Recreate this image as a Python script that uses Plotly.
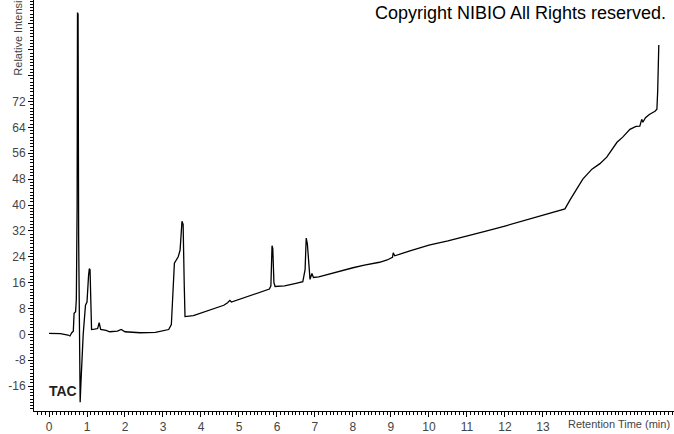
import plotly.graph_objects as go

# Retention time (min) and relative intensity
time_min = [0.0, 0.3, 0.5, 0.55, 0.6, 0.64, 0.66, 0.7, 0.72, 0.74, 0.75, 0.765, 0.78, 0.8, 0.82,
            0.84, 0.86, 0.9, 0.96, 1.0, 1.04, 1.06, 1.08, 1.1, 1.12, 1.2, 1.28, 1.32, 1.36, 1.5,
            1.6, 1.8, 1.9, 2.0, 2.4, 2.8, 3.0, 3.15, 3.22, 3.26, 3.3, 3.4, 3.45, 3.5, 3.53, 3.56,
            3.58, 3.8, 4.0, 4.2, 4.4, 4.6, 4.7, 4.76, 4.8, 5.0, 5.2, 5.4, 5.6, 5.8, 5.84, 5.87,
            5.89, 5.92, 5.95, 6.2, 6.5, 6.68, 6.74, 6.77, 6.8, 6.84, 6.87, 6.92, 6.96, 7.1, 7.4,
            7.7, 8.0, 8.3, 8.7, 8.9, 9.04, 9.06, 9.1, 9.5, 10.0, 10.5, 11.0, 11.5, 12.0, 12.5,
            13.0, 13.4, 13.58, 13.71, 13.9, 14.05, 14.29, 14.5, 14.68, 14.95, 15.1, 15.29, 15.45,
            15.55, 15.6, 15.63, 15.7, 15.8, 15.95, 16.0, 16.02, 16.03, 16.05]
intensity = [0.3, 0.2, -0.2, -0.5, 0.5, 1.0, 6.5, 7.0, 11.0, 40.0, 99.5, 99.0, 30.0, -19.0, -21.0,
             -15.0, -8.0, 0.0, 9.0, 10.0, 18.0, 20.3, 20.0, 5.0, 1.5, 1.6, 1.8, 3.6, 1.5, 1.2,
             0.8, 1.0, 1.5, 0.8, 0.5, 0.6, 1.0, 1.5, 3.0, 12.0, 22.0, 24.0, 26.0, 35.0, 34.0, 15.0,
             5.5, 5.8, 6.6, 7.4, 8.3, 9.0, 9.8, 10.5, 10.0, 10.8, 11.4, 12.2, 13.0, 14.0, 15.0, 27.4,
             26.5, 16.0, 14.8, 15.0, 15.8, 16.3, 20.0, 29.8, 28.0, 20.0, 17.0, 18.8, 17.6, 17.8, 18.8,
             19.8, 20.6, 21.4, 22.3, 23.0, 23.8, 25.2, 24.3, 25.8, 27.6, 28.9, 30.3, 31.9, 33.5, 35.2,
             37.0, 38.2, 38.8, 41.5, 45.0, 48.0, 51.1, 52.8, 54.8, 59.4, 61.0, 63.4, 64.3,
             64.4, 66.5, 65.6, 67.0, 68.0, 69.0, 69.6, 75.0, 81.0, 89.5]

x_ticks = list(range(0, 14))
y_ticks = list(range(-16, 97, 8))
y_labels = [str(v) if v <= 72 else "" for v in y_ticks]

font_family = "Arial, Liberation Sans, sans-serif"

fig = go.Figure()
fig.add_trace(go.Scatter(x=time_min, y=intensity, mode="lines",
                         line=dict(color="black", width=1.3), hoverinfo="skip"))

fig.update_layout(
    width=674, height=434,
    margin=dict(l=34, r=0, t=0, b=21),
    paper_bgcolor="white", plot_bgcolor="white",
    showlegend=False,
    font=dict(family=font_family, size=12, color="#444444"),
    xaxis=dict(range=[-0.395, 16.45], tickmode="array", tickvals=x_ticks,
               ticks="outside", ticklen=5, tickcolor="black", tickwidth=1,
               showline=True, linecolor="black", linewidth=1, showgrid=False, zeroline=False,
               tickfont=dict(size=12, color="#444444"),
               minor=dict(tickmode="linear", tick0=0, dtick=0.1, ticks="outside",
                          ticklen=3, tickcolor="black", showgrid=False)),
    yaxis=dict(range=[-23.7, 103.4], tickmode="array", tickvals=y_ticks, ticktext=y_labels,
               ticks="outside", ticklen=5, tickcolor="black", tickwidth=1,
               showline=True, linecolor="black", linewidth=1, showgrid=False, zeroline=False,
               tickfont=dict(size=12, color="#444444"),
               minor=dict(tickmode="linear", tick0=0, dtick=1, ticks="outside",
                          ticklen=3, tickcolor="black", showgrid=False)),
)

fig.add_annotation(text="Copyright NIBIO All Rights reserved.", xref="paper", yref="paper",
                   x=0.9906, y=1.0, xanchor="right", yanchor="top", showarrow=False,
                   font=dict(size=18, color="black", family=font_family), yshift=-1)
fig.add_annotation(text="<b>TAC</b>", xref="x", yref="y", x=-0.06, y=-17.5,
                   xanchor="left", yanchor="middle", showarrow=False,
                   font=dict(size=14, color="#222222", family=font_family))
fig.add_annotation(text="Retention Time (min)", xref="paper", yref="paper",
                   x=0.997, y=0, yshift=-13, xanchor="right", yanchor="middle",
                   showarrow=False, font=dict(size=11, color="#444444", family=font_family))
fig.add_annotation(text="Relative Intensity", xref="paper", yref="paper",
                   x=-0.025, y=0.811, textangle=-90, xanchor="center", yanchor="bottom",
                   showarrow=False, font=dict(size=11, color="#444444", family=font_family))

fig.write_html("out.html", config={"displayModeBar": False},
               post_script="document.body.style.margin='0px';")
